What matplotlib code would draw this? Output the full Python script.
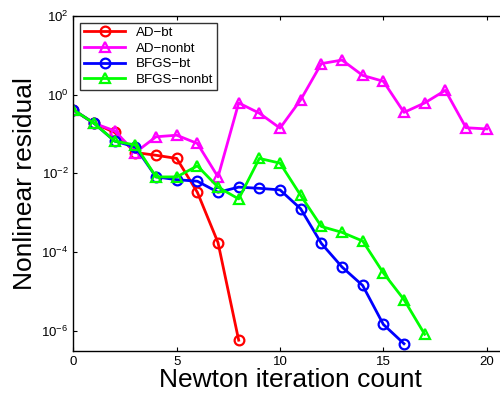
import matplotlib.pyplot as plt
from matplotlib.ticker import FixedLocator, NullLocator

plt.rcParams['font.family'] = ['Liberation Sans', 'DejaVu Sans']
plt.rcParams['mathtext.fontset'] = 'custom'
plt.rcParams['mathtext.rm'] = 'Liberation Sans'

# residual values (log10)
ad_bt_x = [0, 1, 2, 3, 4, 5, 6, 7, 8]
ad_bt = [-0.385, -0.726, -0.96, -1.47, -1.54, -1.62, -2.48, -3.76, -6.24]

ad_nonbt_x = list(range(21))
ad_nonbt = [-0.385, -0.726, -0.92, -1.47, -1.07, -1.03, -1.24, -2.09, -0.21,
            -0.47, -0.85, -0.13, 0.79, 0.88, 0.49, 0.34, -0.45, -0.21, 0.11,
            -0.84, -0.87]

bfgs_bt_x = list(range(17))
bfgs_bt = [-0.385, -0.726, -1.18, -1.33, -2.09, -2.16, -2.2, -2.48, -2.35,
           -2.38, -2.42, -2.9, -3.78, -4.38, -4.85, -5.84, -6.33]

bfgs_nonbt_x = list(range(18))
bfgs_nonbt = [-0.385, -0.726, -1.18, -1.28, -2.09, -2.09, -1.81, -2.35, -2.65,
              -1.62, -1.74, -2.56, -3.35, -3.5, -3.72, -4.53, -5.21, -6.09]

series = [
    ("AD\u2212bt", ad_bt_x, ad_bt, 'o', (1, 0, 0)),
    ("AD\u2212nonbt", ad_nonbt_x, ad_nonbt, '^', (1, 0, 1)),
    ("BFGS\u2212bt", bfgs_bt_x, bfgs_bt, 'o', (0, 0, 1)),
    ("BFGS\u2212nonbt", bfgs_nonbt_x, bfgs_nonbt, '^', (0, 1, 0)),
]

fig = plt.figure(figsize=(5, 4), dpi=100)
ax = fig.add_axes([0.1467, 0.123, 0.868, 0.837])

for label, xs, ys, m, c in series:
    ax.semilogy(xs, [10 ** v for v in ys], color=c, marker=m, lw=2,
                ms=7, mfc='none', mew=1.6, label=label)

ax.set_xlim(0, 21)
ax.set_ylim(10 ** -6.51, 100)
ax.xaxis.set_major_locator(FixedLocator([0, 5, 10, 15, 20]))
ax.yaxis.set_major_locator(FixedLocator([1e-6, 1e-4, 1e-2, 1, 100]))
ax.yaxis.set_minor_locator(NullLocator())
ax.tick_params(direction='in', top=True, right=True, labelsize=9.5, length=3)
for s in ax.spines.values():
    s.set_linewidth(1)

ax.set_xlabel("Newton iteration count", fontsize=19, labelpad=0)
ax.set_ylabel("Nonlinear residual", fontsize=19, labelpad=3)

leg = ax.legend(loc='upper left', fontsize=9.6, handlelength=3.1,
                fancybox=False, edgecolor='k', borderaxespad=0.5,
                labelspacing=0.25, borderpad=0.3)
leg.get_frame().set_linewidth(1)

fig.savefig("out.png")
